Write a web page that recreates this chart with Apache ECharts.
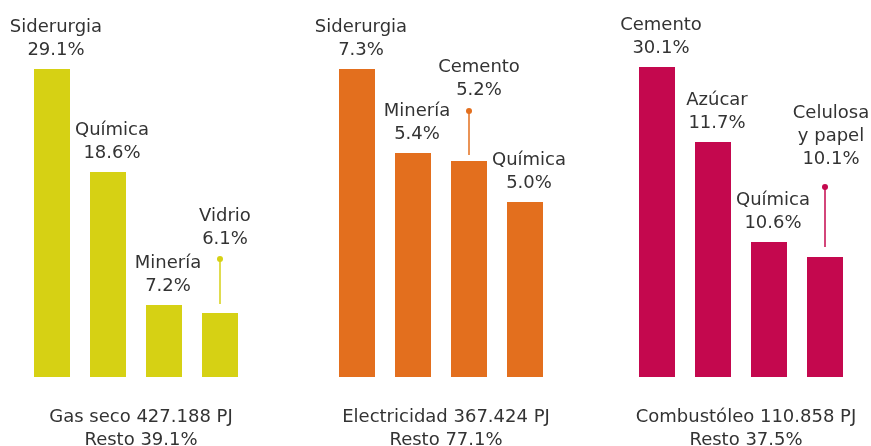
<!DOCTYPE html>
<html>
<head>
<meta charset="utf-8">
<script src="https://cdn.jsdelivr.net/npm/echarts@6/dist/echarts.min.js"></script>
<style>
  html, body { margin: 0; padding: 0; background: #fff; }
  #main { width: 871px; height: 446px; }
</style>
</head>
<body>
<div id="main"></div>
<script>
// datos
var fuels = ['Gas seco', 'Electricidad', 'Combustóleo'];
var totals = ['427.188', '367.424', '110.858'];
var resto = [39.1, 77.1, 37.5];

var catsGas = ['Siderurgia', 'Química', 'Minería', 'Vidrio'];
var sharesGas = [29.1, 18.6, 7.2, 6.1];
var heightsGas = [308, 205, 72, 64];

var catsElec = ['Siderurgia', 'Minería', 'Cemento', 'Química'];
var sharesElec = [7.3, 5.4, 5.2, 5.0];
var heightsElec = [308, 224, 216, 175];

var catsComb = ['Cemento', 'Azúcar', 'Química', 'Celulosa\ny papel'];
var sharesComb = [30.1, 11.7, 10.6, 10.1];
var heightsComb = [310, 235, 135, 120];

(function() {
    var myChart = echarts.init(document.getElementById('main'));
    var font = 'DejaVu Sans';
    var textColor = '#333333';

    // estilo de cada bloque (posicion, color, etiqueta con alfiler)
    var groups = [
        { cats: catsGas, shares: sharesGas, heights: heightsGas, color: '#d6d114',
          left: 24, pin: 3, pinGap: 9, pinLen: 54, pinDist: 62, pinOffset: 5 },
        { cats: catsElec, shares: sharesElec, heights: heightsElec, color: '#e36f1e',
          left: 329, pin: 2, pinGap: 6, pinLen: 50, pinDist: 59, pinOffset: 10 },
        { cats: catsComb, shares: sharesComb, heights: heightsComb, color: '#c4084e',
          left: 629, pin: 3, pinGap: 10, pinLen: 70, pinDist: 86, pinOffset: 6 }
    ];

    var grid = [], xAxis = [], yAxis = [], series = [], title = [];

    groups.forEach(function(g, i) {
        grid.push({ left: g.left, width: 224, top: 67, height: 310 });
        xAxis.push({ type: 'category', gridIndex: i, data: g.cats, show: false });
        yAxis.push({ type: 'value', gridIndex: i, min: 0, max: 310, show: false });

        var data = g.heights.map(function(h, k) {
            if (k === g.pin) {
                return { value: h, label: { distance: g.pinDist, offset: [g.pinOffset, 0] } };
            }
            return h;
        });

        series.push({
            type: 'bar',
            xAxisIndex: i,
            yAxisIndex: i,
            barWidth: 36,
            data: data,
            itemStyle: { color: g.color },
            label: {
                show: true,
                position: 'top',
                distance: 7,
                offset: [4, 0],
                color: textColor,
                fontFamily: font,
                fontSize: 18,
                lineHeight: 23,
                align: 'center',
                formatter: function(p) {
                    return g.cats[p.dataIndex] + '\n' + g.shares[p.dataIndex].toFixed(1) + '%';
                }
            }
        });

        // alfiler: linea y punto entre etiqueta y barra
        series.push({
            type: 'custom',
            xAxisIndex: i,
            yAxisIndex: i,
            data: [[g.pin, g.heights[g.pin]]],
            renderItem: function(params, api) {
                var pt = api.coord([api.value(0), api.value(1)]);
                return {
                    type: 'group',
                    children: [
                        {
                            type: 'line',
                            shape: { x1: pt[0], y1: pt[1] - g.pinGap, x2: pt[0], y2: pt[1] - g.pinLen },
                            style: { stroke: g.color, lineWidth: 1.5 }
                        },
                        {
                            type: 'circle',
                            shape: { cx: pt[0], cy: pt[1] - g.pinLen, r: 3 },
                            style: { fill: g.color }
                        }
                    ]
                };
            }
        });

        title.push({
            text: fuels[i] + ' ' + totals[i] + ' PJ\nResto ' + resto[i].toFixed(1) + '%',
            left: g.left + 112,
            top: 401,
            textAlign: 'center',
            textStyle: {
                color: textColor,
                fontFamily: font,
                fontSize: 18,
                fontWeight: 'normal',
                lineHeight: 23
            }
        });
    });

    var option = {
        animation: false,
        backgroundColor: '#ffffff',
        title: title,
        grid: grid,
        xAxis: xAxis,
        yAxis: yAxis,
        series: series
    };

    myChart.setOption(option);
    window.addEventListener('resize', function() {
        myChart.resize();
    });
})();
</script>
</body>
</html>
